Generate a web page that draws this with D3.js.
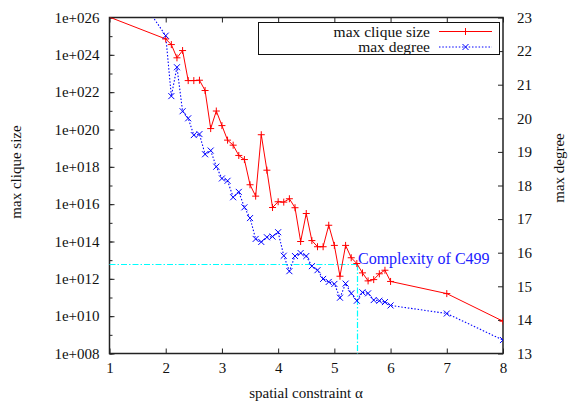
<!DOCTYPE html>
<html><head><meta charset="utf-8">
<script src="https://cdn.jsdelivr.net/npm/d3@7"></script>
<style>body{margin:0;background:#fff}svg{display:block}text{font-family:"Liberation Serif","DejaVu Serif","Times New Roman",serif}</style>
</head><body><svg id="c" width="568" height="404"></svg>
<script>
// ---- data ----
const alphas = [1, 2.0,2.1,2.2,2.3,2.4,2.5,2.6,2.7,2.8,2.9,3.0,3.1,3.2,3.3,3.4,3.5,3.6,3.7,3.8,3.9,4.0,4.1,4.2,4.3,4.4,4.5,4.6,4.7,4.8,4.9,5.0,5.1,5.2,5.3,5.4,5.5,5.6,5.7,5.8,5.9,6.0,7,8];
// log10 of max clique size
const cliqueLog10 = [26.02, 24.85,24.55,23.84,24.23,22.62,22.62,22.64,22.09,20.05,20.99,20.21,19.43,19.16,18.61,18.39,17.04,16.43,19.72,17.82,15.82,16.13,16.11,16.29,15.81,14.0,15.5,14.05,13.72,13.72,14.87,13.79,12.14,13.79,13.13,12.82,12.32,11.89,11.96,12.27,12.46,11.86,11.21,9.73];
const maxDegree = [24.9, 22.46,20.66,21.52,20.21,20.0,19.5,19.53,18.93,19.04,18.56,18.21,18.14,17.65,17.81,17.35,17.03,16.41,16.32,16.46,16.48,16.61,15.91,15.45,15.9,15.99,15.9,15.6,15.48,15.22,15.13,15.07,14.66,15.08,14.79,14.57,14.82,14.79,14.59,14.57,14.53,14.43,14.19,13.4];
const xTicks = [1,2,3,4,5,6,7,8];
const yLeftTicks = [1e8,1e10,1e12,1e14,1e16,1e18,1e20,1e22,1e24,1e26];
const yLeftTickLabels = ["1e+008","1e+010","1e+012","1e+014","1e+016","1e+018","1e+020","1e+022","1e+024","1e+026"];
const yRightTicks = [13,14,15,16,17,18,19,20,21,22,23];
const seriesNames = ["max clique size","max degree"];
const markAlpha = 5.4;
const markLabel = "Complexity of C499";

// ---- layout ----
const L = 109.5, R = 503, T = 17.5, B = 353.5;
const svg = d3.select("#c");
const x = d3.scaleLinear().domain([1,8]).range([L,R]);
const yL = d3.scaleLog().domain([1e8,1e26]).range([B,T]);
const yR = d3.scaleLinear().domain([13,23]).range([B,T]);

const clique = alphas.map((a,i)=>({a, v:Math.pow(10,cliqueLog10[i])}));
const degree = alphas.map((a,i)=>({a, v:maxDegree[i]}));

svg.append("defs").append("clipPath").attr("id","clip")
  .append("rect").attr("x",L).attr("y",T).attr("width",R-L).attr("height",B-T);

// axes
const fs = 15;
const axB = d3.axisBottom(x).tickValues(xTicks).tickSize(-5).tickPadding(9).tickFormat(d3.format("d"));
const axT = d3.axisTop(x).tickValues(xTicks).tickSize(-5).tickFormat("");
const minorL = d3.range(8,27).map(e=>Math.pow(10,e));
const axLminor = d3.axisLeft(yL).tickValues(minorL).tickSize(-3).tickFormat("");
const axL = d3.axisLeft(yL).tickValues(yLeftTicks).tickSize(-5).tickPadding(10)
  .tickFormat((d,i)=>yLeftTickLabels[i]);
const axR = d3.axisRight(yR).tickValues(yRightTicks).tickSize(-5).tickPadding(14).tickFormat(d3.format("d"));

function style(g){
  g.select(".domain").remove();
  g.selectAll("line").attr("stroke","#222").attr("stroke-width",1);
  g.selectAll("text").attr("font-size",fs).attr("fill","#111").attr("font-family",null);
}
svg.append("g").attr("transform",`translate(0,${B})`).call(axB).call(style);
svg.append("g").attr("transform",`translate(0,${T})`).call(axT).call(style);
svg.append("g").attr("transform",`translate(${L},0)`).call(axLminor).call(style);
svg.append("g").attr("transform",`translate(${L},0)`).call(axL).call(style);
svg.append("g").attr("transform",`translate(${R},0)`).call(axR).call(style);

// frame
svg.append("rect").attr("x",L).attr("y",T).attr("width",R-L).attr("height",B-T)
  .attr("fill","none").attr("stroke","#222").attr("stroke-width",1.5);

// axis titles
svg.append("text").attr("x",306).attr("y",398).attr("text-anchor","middle").attr("font-size",fs).attr("fill","#111").text("spatial constraint α");
svg.append("text").attr("transform","translate(21,172) rotate(-90)").attr("text-anchor","middle").attr("font-size",fs).attr("fill","#111").text("max clique size");
svg.append("text").attr("transform","translate(564,168) rotate(-90)").attr("text-anchor","middle").attr("font-size",fs).attr("fill","#111").text("max degree");

// complexity marker
const mi = alphas.indexOf(markAlpha);
const my = Math.round(yL(clique[mi].v)) + 0.5;
const mx = Math.round(x(markAlpha)) + 0.5;
const cy = svg.append("g").attr("stroke","#00ffff").attr("stroke-width",1.2).attr("stroke-dasharray","6,2,1.5,2").attr("fill","none");
cy.append("line").attr("x1",L).attr("x2",mx).attr("y1",my).attr("y2",my);
cy.append("line").attr("x1",mx).attr("x2",mx).attr("y1",my).attr("y2",B);
svg.append("text").attr("x",mx+0.5).attr("y",my-0.5).attr("font-size",16).attr("fill","#2020ff").text(markLabel);

// series
const plot = svg.append("g").attr("clip-path","url(#clip)");
const lineL = d3.line().x(d=>x(d.a)).y(d=>yL(d.v));
const lineR = d3.line().x(d=>x(d.a)).y(d=>yR(d.v));
plot.append("path").datum(degree).attr("d",lineR).attr("fill","none").attr("stroke","#0000ff").attr("stroke-width",1.1).attr("stroke-dasharray","1.5,1.8");
plot.append("path").datum(clique).attr("d",lineL).attr("fill","none").attr("stroke","#ff0000").attr("stroke-width",1);

const s=3.5;
function plus(g,cx,cy,col){g.append("path").attr("d",`M${cx-s},${cy}H${cx+s}M${cx},${cy-s}V${cy+s}`).attr("stroke",col).attr("stroke-width",1).attr("fill","none");}
function cross(g,cx,cy,col){const t=3;g.append("path").attr("d",`M${cx-t},${cy-t}L${cx+t},${cy+t}M${cx-t},${cy+t}L${cx+t},${cy-t}`).attr("stroke",col).attr("stroke-width",1).attr("fill","none");}
clique.filter(d=>d.v<=1e26).forEach(d=>plus(plot,x(d.a),yL(d.v),"#ff0000"));
degree.filter(d=>d.v<=23).forEach(d=>cross(plot,x(d.a),yR(d.v),"#0000ff"));

// legend
const lg = svg.append("g");
lg.append("rect").attr("x",258.5).attr("y",22.5).attr("width",241).attr("height",32).attr("fill","#fff").attr("stroke","#111").attr("stroke-width",1);
const ly=[31.5,47];
seriesNames.forEach((n,i)=>{
  lg.append("text").attr("x",430).attr("y",ly[i]+5).attr("text-anchor","end").attr("font-size",fs+0.5).attr("fill","#111").text(n);
});
lg.append("line").attr("x1",439).attr("x2",492).attr("y1",ly[0]).attr("y2",ly[0]).attr("stroke","#ff0000");
plus(lg,465.5,ly[0],"#ff0000");
lg.append("line").attr("x1",439).attr("x2",492).attr("y1",ly[1]).attr("y2",ly[1]).attr("stroke","#0000ff").attr("stroke-dasharray","1.5,1.8");
cross(lg,465.5,ly[1],"#0000ff");
</script></body></html>
